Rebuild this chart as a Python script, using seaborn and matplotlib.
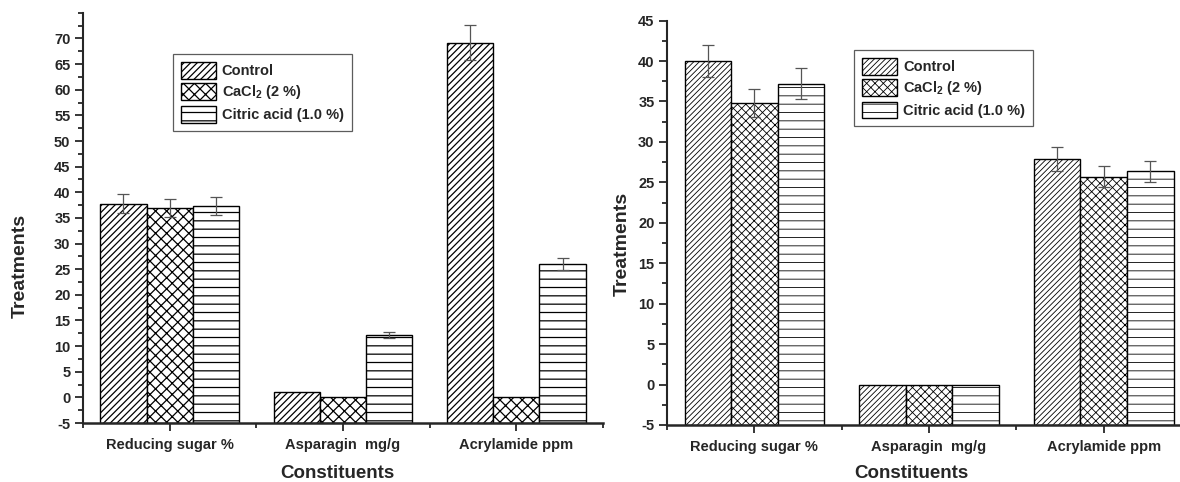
import pandas as pd
import numpy as np
import matplotlib
matplotlib.use("Agg")
import matplotlib.pyplot as plt
import seaborn as sns
from matplotlib.patches import Patch
from matplotlib.ticker import MultipleLocator

# --- Data ---
constituents = ["Reducing sugar %", "Asparagin  mg/g", "Acrylamide ppm"]
treatments = ["Control", "CaCl$_\\mathbf{2}$ (2 %)", "Citric acid (1.0 %)"]

# left panel (means, error)
left_control = [37.8, 1.0, 69.2]
left_cacl2 = [36.9, 0.0, 0.0]
left_citric = [37.3, 12.2, 26.0]
left_control_err = [1.8, 0.0, 3.4]
left_cacl2_err = [1.8, 0.0, 0.0]
left_citric_err = [1.8, 0.6, 1.1]

# right panel (means, error)
right_control = [40.0, 0.0, 27.9]
right_cacl2 = [34.8, 0.0, 25.7]
right_citric = [37.2, 0.0, 26.4]
right_control_err = [2.0, 0.0, 1.5]
right_cacl2_err = [1.7, 0.0, 1.3]
right_citric_err = [1.9, 0.0, 1.3]

# --- Style ---
sns.set_theme(style="ticks")
plt.rcParams["font.family"] = ["Liberation Sans", "DejaVu Sans"]
plt.rcParams["font.weight"] = "bold"
plt.rcParams["axes.unicode_minus"] = False
plt.rcParams["mathtext.fontset"] = "custom"
plt.rcParams["mathtext.rm"] = "Liberation Sans:bold"
plt.rcParams["mathtext.bf"] = "Liberation Sans:bold"


def make_frame(series):
    rows = []
    for name, vals in zip(treatments, series):
        for c, v in zip(constituents, vals):
            rows.append({"constituent": c, "treatment": name, "value": v})
    return pd.DataFrame(rows)


def draw_panel(ax, series, errs, hatches, ylim, ytop_label, legend_anchor,
               ylabel_xy, xlabel_xy, hatch_lw):
    plt.rcParams["hatch.linewidth"] = hatch_lw
    df = make_frame(series)
    sns.barplot(data=df, x="constituent", y="value", hue="treatment",
                order=constituents, hue_order=treatments,
                palette=["white"] * 3, edgecolor="black", linewidth=1.0,
                errorbar=None, width=0.8, ax=ax, legend=False)

    base = ylim[0]
    bar_conts = list(ax.containers)[:3]
    for i, cont in enumerate(bar_conts):
        xs = []
        for bar in cont:
            bar.set_hatch(hatches[i])
            # bars start at the bottom of the axis like the original
            bar.set_height(bar.get_height() - base)
            bar.set_y(base)
            xs.append(bar.get_x() + bar.get_width() / 2)
        vals = np.array(series[i])
        e = np.array(errs[i])
        mask = e > 0
        ax.errorbar(np.array(xs)[mask], vals[mask], yerr=e[mask], fmt="none",
                    ecolor="#555555", elinewidth=0.9, capsize=4, capthick=0.9)

    ax.set_xlim(-0.5, 2.5)
    ax.set_ylim(*ylim)
    ax.set_yticks(np.arange(ylim[0], ytop_label + 1, 5))
    ax.yaxis.set_minor_locator(MultipleLocator(2.5))
    ax.set_xticks([-0.5, 0.5, 1.5, 2.5], minor=True)
    ax.tick_params(axis="both", which="major", labelsize=10.5, width=1.3,
                   length=6, direction="out", pad=3)
    ax.tick_params(axis="x", which="major", pad=5)
    ax.tick_params(axis="both", which="minor", width=1.3, length=3.5,
                   direction="out")
    for lab in ax.get_xticklabels() + ax.get_yticklabels():
        lab.set_fontweight("bold")

    sns.despine(ax=ax)
    ax.spines["left"].set_linewidth(1.5)
    ax.spines["bottom"].set_linewidth(1.8)

    ax.set_ylabel("Treatments", fontsize=14, fontweight="bold")
    ax.set_xlabel("Constituents", fontsize=13.5, fontweight="bold")
    ax.yaxis.set_label_coords(*ylabel_xy)
    ax.xaxis.set_label_coords(*xlabel_xy)

    handles = [Patch(facecolor="white", edgecolor="black", hatch=h, label=t)
               for h, t in zip(hatches, treatments)]
    leg = ax.legend(handles=handles, loc="upper left",
                    bbox_to_anchor=legend_anchor, borderaxespad=0,
                    frameon=True, fancybox=False,
                    edgecolor="#333333", fontsize=10.5, handlelength=2.4,
                    handleheight=1.4, labelspacing=0.3, borderpad=0.55,
                    handletextpad=0.4)
    leg.get_frame().set_linewidth(0.9)
    for t in leg.get_texts():
        t.set_fontweight("bold")


fig = plt.figure(figsize=(11.8, 4.82), dpi=100)
fig.patch.set_facecolor("white")
ax1 = fig.add_axes([0.0703, 0.1224, 0.4407, 0.851])
ax2 = fig.add_axes([0.5653, 0.1183, 0.444, 0.839])

draw_panel(ax1,
           [left_control, left_cacl2, left_citric],
           [left_control_err, left_cacl2_err, left_citric_err],
           ["/////", "xxx", "--"], (-5, 75), 70, (0.173, 0.9),
           (-0.104, 0.383), (0.49, -0.102), 0.9)

draw_panel(ax2,
           [right_control, right_cacl2, right_citric],
           [right_control_err, right_cacl2_err, right_citric_err],
           ["//////", "xxxx", "--"], (-5, 45), 45, (0.357, 0.928),
           (-0.069, 0.448), (0.467, -0.099), 0.6)

fig.savefig("out.png", dpi=100, facecolor="white")
